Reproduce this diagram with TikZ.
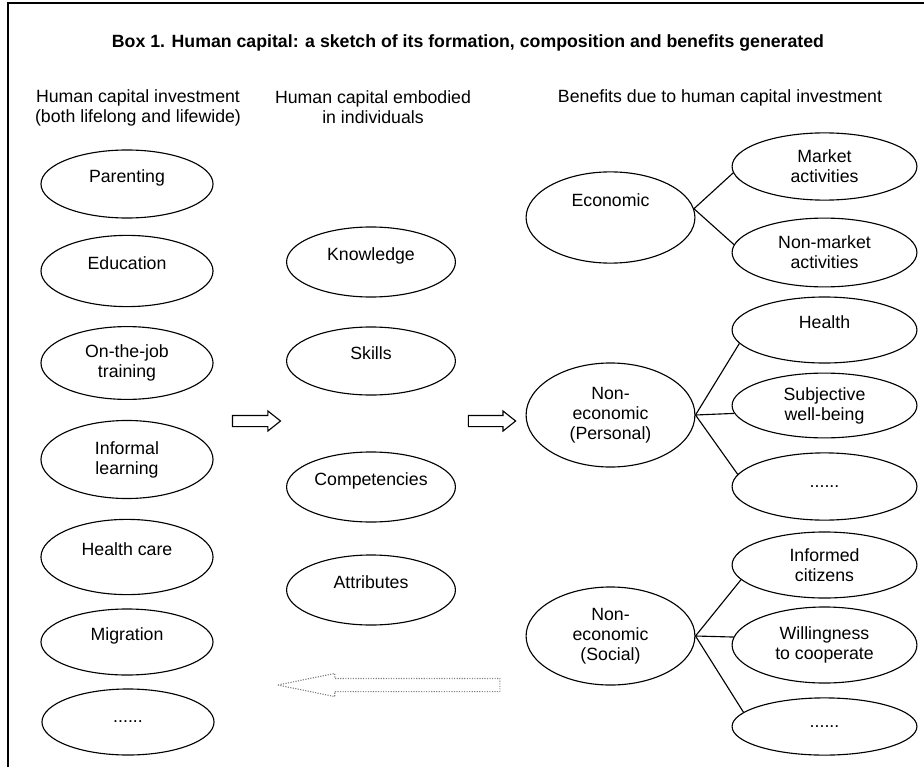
\documentclass[tikz,border=0pt]{standalone}
\usepackage{fontspec}
\setmainfont{Liberation Sans}
\usetikzlibrary{shapes.geometric}
\usetikzlibrary{shapes.arrows}
\newcommand{\diagfont}{\fontsize{12.6}{14.2}\selectfont}

\begin{document}
\begin{tikzpicture}[x=0.025cm,y=-0.025cm,line width=0.8pt,font=\diagfont]
\tikzset{bubble/.style={ellipse, draw, inner sep=0pt, align=center}}
\tikzset{invest/.style={bubble, minimum width=4.3cm, minimum height=1.75cm}}
\tikzset{embodied/.style={bubble, minimum width=4.22cm, minimum height=1.75cm}}
\tikzset{benefit/.style={bubble, minimum width=4.22cm}}
\tikzset{outcome/.style={bubble, minimum width=4.62cm, minimum height=1.68cm}}
\tikzset{oneline/.style={text depth=0.42cm}}
\tikzset{blockarrow/.style={single arrow, draw, inner sep=0.125cm, single arrow head extend=0.1125cm, single arrow tip angle=77, minimum height=1.2cm}}
\tikzset{backarrow/.style={single arrow, draw=black!50, densely dotted, inner sep=0.15cm, single arrow head extend=0.125cm, single arrow tip angle=23, minimum height=5.55cm, shape border rotate=180}}
\useasboundingbox (0,0) rectangle (924,767);
\draw[line width=1.2pt] (8,767) -- (8,3) -- (924,3);

% title and column heads
\node[font=\diagfont\bfseries] (title) at (468,42.5) {Box 1. Human capital: a sketch of its formation, composition and benefits generated};
\node[align=center] (headinvest) at (138,108) {Human capital investment\\(both lifelong and lifewide)};
\node[align=center] (headembodied) at (373,107) {Human capital embodied\\in individuals};
\node (headbenefit) at (720,98) {Benefits due to human capital investment};

% investment
\node[invest, oneline, minimum height=1.7cm] (parenting) at (127,184) {Parenting};
\node[invest, oneline, minimum height=1.78cm] (education) at (127,271) {Education};
\node[invest, minimum height=1.82cm] (training) at (127,363) {On-the-job\\training};
\node[invest, minimum height=1.95cm] (informal) at (127,459.5) {Informal\\learning};
\node[invest, oneline, minimum height=1.88cm] (healthcare) at (127,557) {Health care};
\node[invest, oneline, minimum height=1.65cm] (migration) at (127,642) {Migration};
\node[invest, minimum height=1.65cm] (investmore) at (128,722) {......};

% embodied
\node[embodied, oneline] (knowledge) at (371,262) {Knowledge};
\node[embodied, oneline, minimum height=1.7cm] (skills) at (371,361) {Skills};
\node[embodied, oneline] (competencies) at (371,487) {Competencies};
\node[embodied, oneline] (attributes) at (371,590) {Attributes};

% benefits
\node[benefit, minimum height=2.28cm, text depth=0.86cm] (economic) at (610.5,217.5) {Economic};
\node[benefit, minimum height=2.6cm] (personal) at (610.5,415) {Non-\\economic\\(Personal)};
\node[benefit, minimum height=2.45cm] (social) at (610.5,636) {Non-\\economic\\(Social)};

\node[outcome] (market) at (824.5,166.5) {Market\\activities};
\node[outcome, minimum height=1.72cm] (nonmarket) at (824.5,252.5) {Non-market\\activities};
\node[outcome, oneline, minimum height=1.65cm] (health) at (824.5,330) {Health};
\node[outcome, minimum height=1.62cm] (wellbeing) at (824.5,405.5) {Subjective\\well-being};
\node[outcome] (personalmore) at (824.5,486.5) {......};
\node[outcome, minimum height=1.65cm] (informed) at (824.5,565) {Informed\\citizens};
\node[outcome, minimum height=1.9cm] (cooperate) at (824.5,645) {Willingness\\to cooperate};
\node[outcome, minimum height=1.43cm] (socialmore) at (824.5,726.5) {......};

% block arrows
\node[blockarrow] (toembodied) at (253,421) {};
\node[blockarrow, minimum height=1.18cm] (tobenefit) at (488.5,421) {};
\node[backarrow] (feedback) at (405,685) {};

\draw (economic.6) -- (market.184);
\draw (economic.6) -- (nonmarket.175);
\draw (personal.east) -- (health.189);
\draw (personal.east) -- (wellbeing.185);
\draw (personal.east) -- (personalmore.172);
\draw (social.east) -- (informed.190);
\draw (social.east) -- (cooperate.175);
\draw (social.east) -- (socialmore.170);
\end{tikzpicture}
\end{document}
